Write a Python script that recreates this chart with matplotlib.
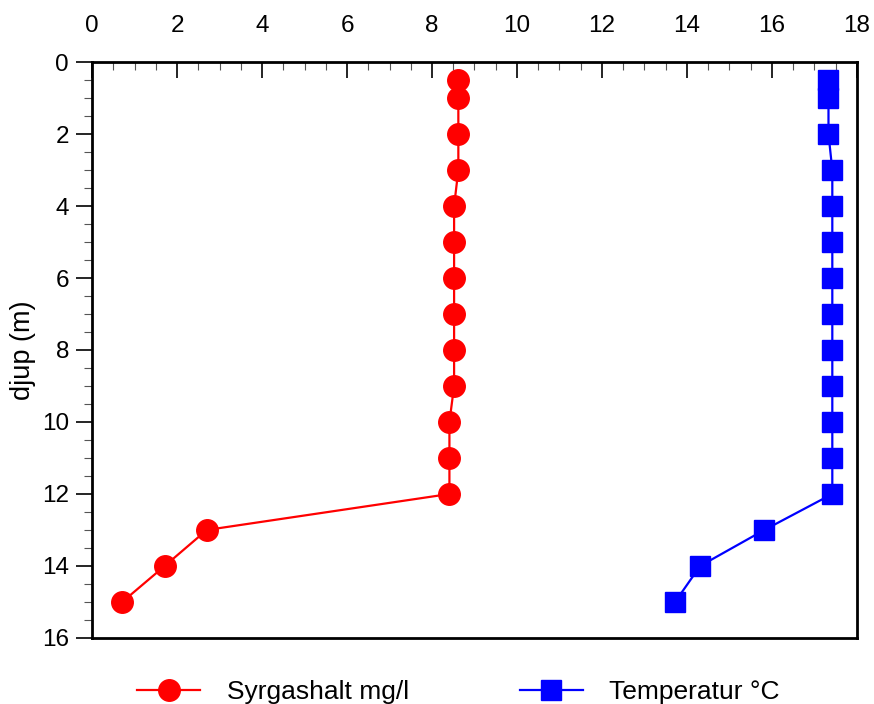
import numpy as np
import matplotlib.pyplot as plt
from matplotlib.ticker import MultipleLocator

plt.rcParams['font.family'] = ['Liberation Sans', 'DejaVu Sans']

# depth profile (m)
depth = [0.5, 1, 2, 3, 4, 5, 6, 7, 8, 9, 10, 11, 12, 13, 14, 15]
oxygen = [8.62, 8.62, 8.62, 8.62, 8.52, 8.52, 8.52, 8.52, 8.52, 8.52,
          8.41, 8.41, 8.41, 2.70, 1.71, 0.71]
temperature = [17.33, 17.33, 17.33, 17.42, 17.42, 17.42, 17.42, 17.42, 17.42,
               17.42, 17.42, 17.42, 17.42, 15.82, 14.31, 13.72]

fig = plt.figure(figsize=(8.74, 7.04), dpi=100)
ax = fig.add_axes([0.1053, 0.0938, 0.8752, 0.8181])

ax.plot(oxygen, depth, '-o', color='#ff0000', lw=1.6, ms=15.5,
        label='Syrgashalt mg/l')
ax.plot(temperature, depth, '-s', color='#0000ff', lw=1.6, ms=15,
        label='Temperatur °C')

ax.set_xlim(0, 18)
ax.set_ylim(16, 0)
ax.xaxis.set_major_locator(MultipleLocator(2))
ax.xaxis.set_minor_locator(MultipleLocator(0.5))
ax.yaxis.set_major_locator(MultipleLocator(2))
ax.yaxis.set_minor_locator(MultipleLocator(0.5))
ax.xaxis.tick_top()

ax.tick_params(axis='x', which='both', direction='in', top=True, bottom=False,
               labelsize=17.5, pad=18)
ax.tick_params(axis='x', which='major', length=11.5, width=1.2)
ax.tick_params(axis='x', which='minor', length=5.5, width=0.8, color='#555555')
ax.tick_params(axis='y', which='both', direction='out', left=True, right=False,
               labelsize=17.5, pad=5)
ax.tick_params(axis='y', which='major', length=11.5, width=1.2)
ax.tick_params(axis='y', which='minor', length=5.5, width=0.8, color='#555555')

for s in ax.spines.values():
    s.set_linewidth(2)

ax.set_ylabel('djup (m)', fontsize=19.5, labelpad=4)

fig.legend(loc='center', bbox_to_anchor=(0.5246, 0.017), ncol=2,
           frameon=False, fontsize=19, handlelength=2.4, handletextpad=1.0,
           columnspacing=4.2)

fig.savefig('out.png', dpi=100)
